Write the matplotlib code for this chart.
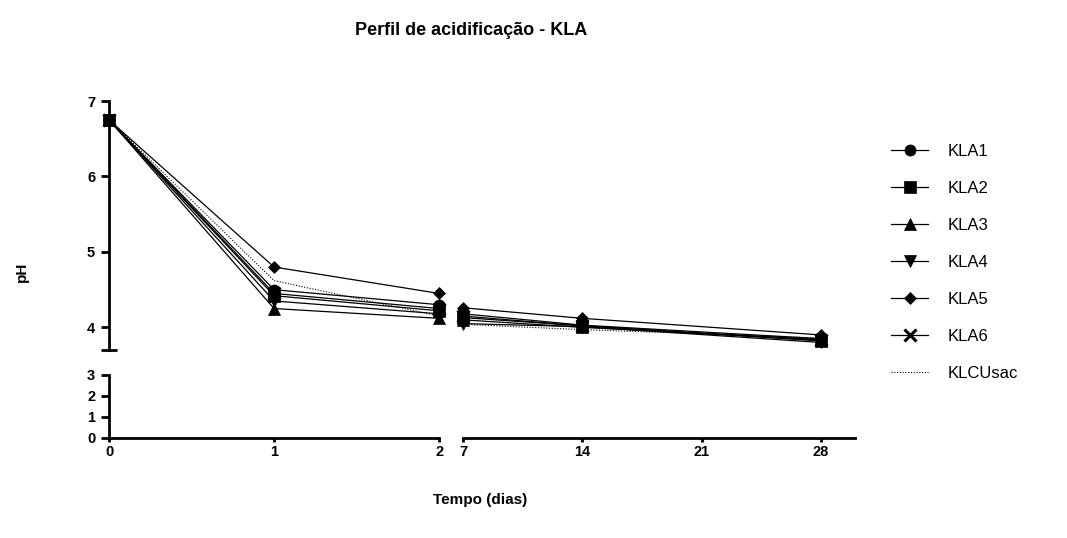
import numpy as np
import matplotlib.pyplot as plt

plt.rcParams['font.family'] = ['Liberation Sans', 'DejaVu Sans']

# sampling days and pH readings per sample
dias = [0, 1, 2, 7, 14, 28]
series = ["KLA1", "KLA2", "KLA3", "KLA4", "KLA5", "KLA6", "KLCUsac"]
ph_kla1 = [6.75, 4.50, 4.30, 4.18, 4.03, 3.85]
ph_kla2 = [6.75, 4.42, 4.22, 4.13, 4.02, 3.82]
ph_kla3 = [6.75, 4.25, 4.12, 4.10, 4.00, 3.84]
ph_kla4 = [6.75, 4.35, 4.18, 4.05, 4.01, 3.80]
ph_kla5 = [6.75, 4.80, 4.45, 4.26, 4.12, 3.90]
ph_kla6 = [6.75, 4.45, 4.25, 4.15, 4.02, 3.83]
ph_klcu = [6.75, 4.62, 4.15, 4.04, 3.97, 3.86]
valores = [ph_kla1, ph_kla2, ph_kla3, ph_kla4, ph_kla5, ph_kla6, ph_klcu]
marcadores = ['o', 's', '^', 'v', 'D', 'x', None]

fig = plt.figure(figsize=(10.67, 5.38), dpi=100)
ax_ul = fig.add_axes([0.1022, 0.3494, 0.3093, 0.4628])
ax_ur = fig.add_axes([0.4339, 0.3494, 0.3674, 0.4628], sharey=ax_ul)
ax_ll = fig.add_axes([0.1022, 0.1859, 0.3093, 0.1171], sharex=ax_ul)
ax_lr = fig.add_axes([0.4339, 0.1859, 0.3674, 0.1171], sharex=ax_ur)

x = np.array(dias)
seg1 = x <= 2
seg2 = x >= 7
handles = []
for nome, vals, mk in zip(series, valores, marcadores):
    v = np.array(vals)
    kw = dict(color='black', clip_on=False, zorder=3)
    if mk is None:
        kw.update(linestyle=(0, (1, 1.5)), linewidth=0.8)
    else:
        ms = 9 if mk == 'x' else (6.5 if mk == 'D' else 8)
        kw.update(linestyle='-', linewidth=0.9, marker=mk, markersize=ms,
                  markeredgewidth=2.2 if mk == 'x' else 0.5)
    h, = ax_ul.plot(x[seg1], v[seg1], label=nome, **kw)
    ax_ur.plot(x[seg2], v[seg2], **kw)
    handles.append(h)

ax_ul.set_xlim(0, 2)
ax_ur.set_xlim(7, 30)
ax_ul.set_ylim(3.7, 7)
ax_ll.set_ylim(0, 3)

lw = 2.0
for ax in (ax_ul, ax_ur, ax_ll, ax_lr):
    for s in ax.spines.values():
        s.set_visible(False)
        s.set_linewidth(lw)
    ax.set_facecolor('none')

ax_ul.spines['left'].set_visible(True)
ax_ll.spines['left'].set_visible(True)
ax_ll.spines['bottom'].set_visible(True)
ax_lr.spines['bottom'].set_visible(True)

tick_font = dict(fontsize=10.5, fontweight='bold')

# y axis, upper part
ax_ul.set_yticks([4, 5, 6, 7])
ax_ul.set_yticklabels(['4', '5', '6', '7'], **tick_font)
ax_ul.set_yticks([3.7], minor=True)
ax_ul.tick_params(axis='y', which='major', direction='out', length=6, width=lw, pad=4)
ax_ul.tick_params(axis='y', which='minor', direction='inout', length=12, width=lw)
ax_ul.tick_params(axis='x', which='both', bottom=False, labelbottom=False)

# y axis, lower part
ax_ll.set_yticks([0, 1, 2, 3])
ax_ll.set_yticklabels(['0', '1', '2', '3'], **tick_font)
ax_ll.set_yticks([3], minor=True)
ax_ll.tick_params(axis='y', which='major', direction='out', length=6, width=lw, pad=4)
ax_ll.tick_params(axis='y', which='minor', direction='inout', length=12, width=lw)

# x axis, both parts
ax_ll.set_xticks([0, 1, 2])
ax_ll.set_xticklabels(['0', '1', '2'], **tick_font)
ax_ll.set_xticks([2], minor=True)
ax_lr.set_xticks([7, 14, 21, 28])
ax_lr.set_xticklabels(['7', '14', '21', '28'], **tick_font)
ax_lr.set_xticks([7], minor=True)
for ax in (ax_ll, ax_lr):
    ax.tick_params(axis='x', which='major', direction='out', length=3, width=lw, pad=2)
    ax.tick_params(axis='x', which='minor', direction='inout', length=14, width=lw)

ax_ur.tick_params(axis='both', which='both', left=False, bottom=False,
                  labelleft=False, labelbottom=False)
ax_lr.tick_params(axis='y', which='both', left=False, labelleft=False)

fig.text(0.442, 0.944, "Perfil de acidificação - KLA", ha='center', va='center',
         fontsize=13, fontweight='bold')
fig.text(0.45, 0.07, "Tempo (dias)", ha='center', va='center',
         fontsize=11, fontweight='bold')
fig.text(0.021, 0.495, "pH", ha='center', va='center', rotation=90,
         fontsize=11, fontweight='bold')

fig.legend(handles=handles, loc='upper left', bbox_to_anchor=(0.829, 0.745),
           frameon=False, fontsize=12, handlelength=2.2, handletextpad=1.2,
           labelspacing=1.32, borderaxespad=0)

fig.savefig("out.png", dpi=100)
